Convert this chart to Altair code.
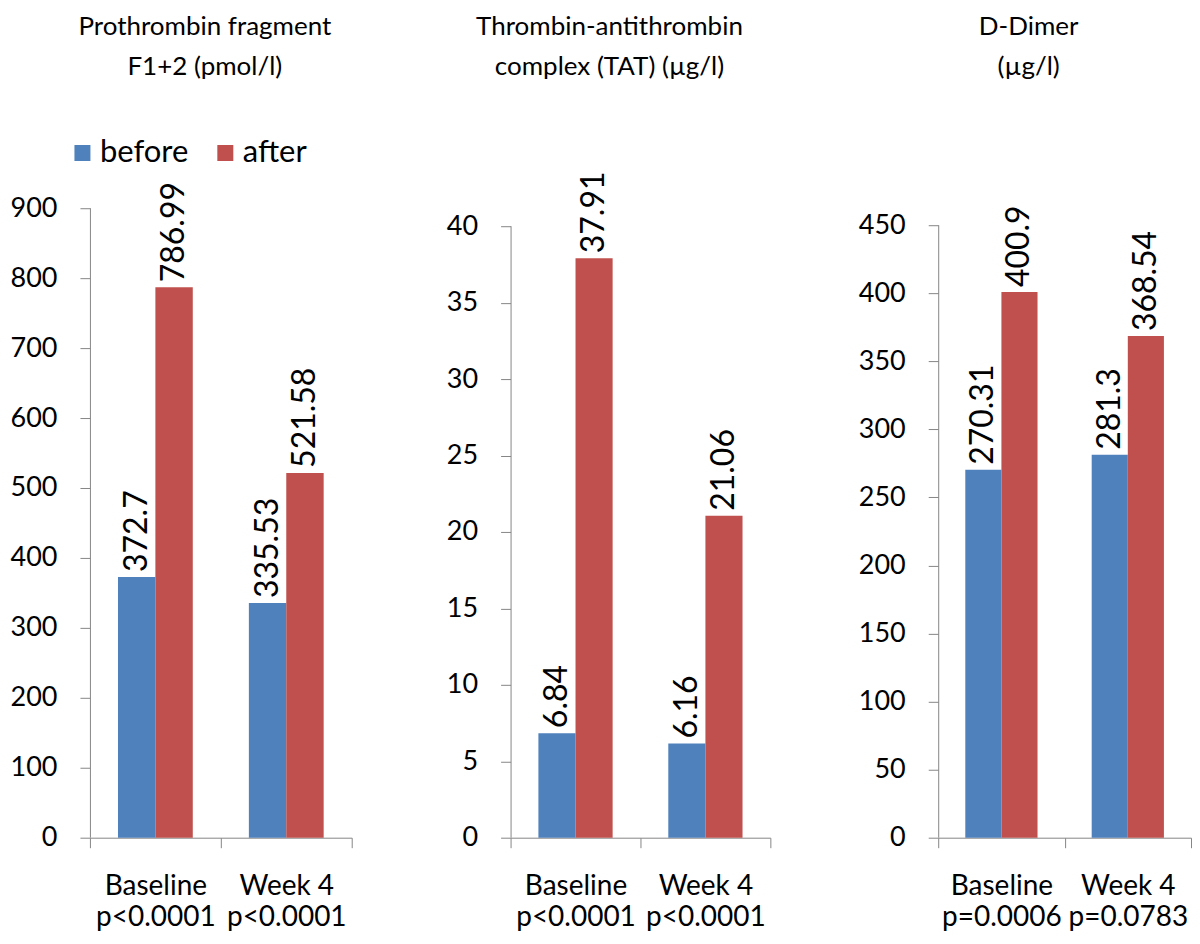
import altair as alt
import pandas as pd

categories = ["Baseline", "Week 4"]
series = ["before", "after"]
colors = ["#4F81BD", "#C0504D"]

f12_before = [372.7, 335.53]
f12_after = [786.99, 521.58]
f12_p = ["p<0.0001", "p<0.0001"]
f12_title = ["Prothrombin fragment", "F1+2 (pmol/l)"]
f12_ticks = [0, 100, 200, 300, 400, 500, 600, 700, 800, 900]
f12_top = 900

tat_before = [6.84, 6.16]
tat_after = [37.91, 21.06]
tat_p = ["p<0.0001", "p<0.0001"]
tat_title = ["Thrombin-antithrombin", "complex (TAT) (µg/l)"]
tat_ticks = [0, 5, 10, 15, 20, 25, 30, 35, 40]
tat_top = 41.18

dd_before = [270.31, 281.3]
dd_after = [400.9, 368.54]
dd_p = ["p=0.0006", "p=0.0783"]
dd_title = ["D-Dimer", "(µg/l)"]
dd_ticks = [0, 50, 100, 150, 200, 250, 300, 350, 400, 450]
dd_top = 462.5

FONT = "Lato"
AXIS_GRAY = "#868686"


def panel(before, after, pvals, title, ticks, top, width, extent, t_offset, t_dx):
    rows = []
    for c, b, a in zip(categories, before, after):
        rows.append({"cat": c, "series": "before", "value": b, "label": str(b)})
        rows.append({"cat": c, "series": "after", "value": a, "label": str(a)})
    df = pd.DataFrame(rows)
    parts = [f"datum.label == '{c}' ? ['{c}', '{p}']" for c, p in zip(categories, pvals)]
    label_expr = " : ".join(parts) + " : datum.label"

    yscale = alt.Scale(domain=[ticks[0], top], nice=False)
    x = alt.X("cat:N", sort=categories,
              scale=alt.Scale(paddingInner=0, paddingOuter=0),
              axis=alt.Axis(title=None, labelAngle=0, tickBand="extent", grid=False,
                            labelExpr=label_expr, labelFontSize=28,
                            labelLineHeight=31, labelPadding=25, tickSize=10,
                            domainColor=AXIS_GRAY, tickColor=AXIS_GRAY,
                            labelColor="black", labelFont=FONT,
                            labelBaseline="top"))
    xo = alt.XOffset("series:N", sort=series,
                     scale=alt.Scale(paddingOuter=0.75, paddingInner=0))
    y = alt.Y("value:Q", scale=yscale,
              axis=alt.Axis(title=None, values=ticks, grid=False, tickSize=10,
                            domain=False,
                            labelPadding=23, minExtent=extent, labelFontSize=27,
                            labelFont=FONT, labelColor="black",
                            tickColor=AXIS_GRAY))
    color = alt.Color("series:N", sort=series,
                      scale=alt.Scale(domain=series, range=colors),
                      legend=alt.Legend(title=None))
    base = alt.Chart(df)
    bars = base.mark_bar().encode(x=x, xOffset=xo, y=y, color=color)
    text = base.mark_text(angle=270, align="left", baseline="middle", dx=5,
                          fontSize=32, font=FONT, color="black").encode(
        x=x, xOffset=xo, y=y, text="label:N")
    axis_df = pd.DataFrame({"lo": [ticks[0]], "hi": [ticks[-1]]})
    axis_line = alt.Chart(axis_df).mark_rule(color=AXIS_GRAY, strokeWidth=1).encode(
        x=alt.value(0.5),
        y=alt.Y("lo:Q", scale=yscale,
                axis=alt.Axis(title=None, values=ticks, grid=False, domain=False)),
        y2="hi:Q")
    return alt.layer(bars, text, axis_line).properties(
        width=width, height=630,
        view=alt.ViewBackground(stroke="transparent", strokeWidth=0),
        title=alt.TitleParams(text=title, fontSize=26, font=FONT,
                              fontWeight="normal", color="black",
                              anchor="middle", frame="group", dx=t_dx,
                              offset=t_offset, lineHeight=40))


p1 = panel(f12_before, f12_after, f12_p, f12_title, f12_ticks, f12_top, 262, 82, 102, -16)
p2 = panel(tat_before, tat_after, tat_p, tat_title, tat_ticks, tat_top, 260, 138, 92, -31)
p3 = panel(dd_before, dd_after, dd_p, dd_title, dd_ticks, dd_top, 253, 147, 125, -36)

chart = alt.hconcat(p1, p2, p3, spacing=20).resolve_scale(
    x="independent", y="independent", xOffset="independent", color="shared"
).properties(padding={"top": 5, "left": 0, "right": 0, "bottom": 0}).configure_view(
    stroke="transparent", strokeWidth=0).configure_axis(grid=False).configure(
    font=FONT).configure_legend(
    orient="none", legendX=-23, legendY=-71, direction="horizontal",
    labelFontSize=31, labelFont=FONT, labelColor="black",
    symbolType="square", symbolSize=256, symbolStrokeWidth=0,
    columnPadding=21, labelOffset=2, padding=0
)

chart.save("out.html", embed_options={"renderer": "svg", "actions": False})
